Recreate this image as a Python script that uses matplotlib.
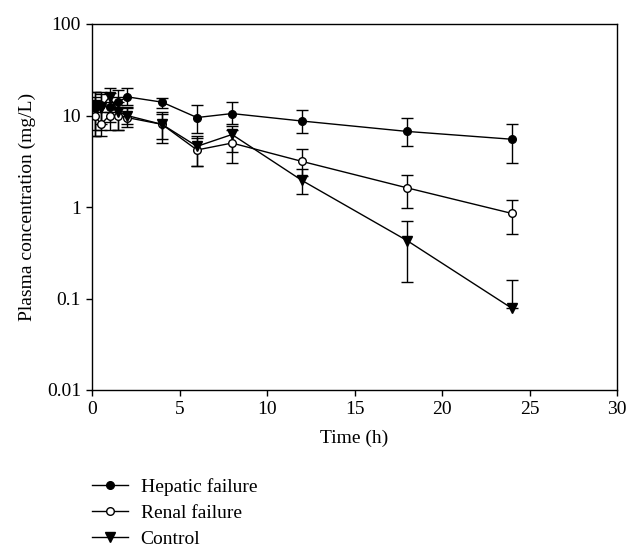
import numpy as np
import matplotlib
matplotlib.use("Agg")
import matplotlib.pyplot as plt
from matplotlib.lines import Line2D

plt.rcParams['font.family'] = ['Liberation Serif', 'DejaVu Serif']
plt.rcParams['font.size'] = 14

# sampling times (h)
t = [0.17, 0.5, 1, 1.5, 2, 4, 6, 8, 12, 18, 24]

# hepatic failure
hep = [12, 13, 12.5, 14, 16, 14, 9.5, 10.5, 8.7, 6.7, 5.5]
hep_lo = [6, 5, 4, 4, 3, 2, 3, 2.5, 2.2, 2.1, 2.5]
hep_hi = [6, 5, 5, 5, 4, 1.5, 3.5, 3.5, 2.8, 2.8, 2.6]

# renal failure
ren = [10, 8, 10, 10, 9.5, 8, 4.2, 5, 3.15, 1.62, 0.85]
ren_lo = [4, 2, 3, 3, 2, 3, 1.4, 2, 0.95, 0.65, 0.34]
ren_hi = [6, 3, 4, 4, 3, 3, 1.5, 2, 1.15, 0.62, 0.35]

# control
ctl = [13, 12, 16, 11, 10, 8, 4.6, 6.2, 1.95, 0.43, 0.078]
ctl_lo = [6, 5, 5, 4, 2, 2.5, 1.8, 2.2, 0.57, 0.28, 0.0]
ctl_hi = [5, 5, 4, 5, 2, 2.5, 1.4, 1.5, 0.65, 0.28, 0.081]

labels = ['Hepatic failure', 'Renal failure', 'Control']

fig = plt.figure(figsize=(6.32, 5.48), dpi=100)
ax = fig.add_axes([92/632, 1-390/548, 525/632, 366/548])

lw = 1.0
common = dict(color='black', lw=lw, elinewidth=lw, capsize=4.5, capthick=lw)
ax.errorbar(t, hep, yerr=[hep_lo, hep_hi], marker='o', ms=5.5,
            mfc='black', mec='black', **common)
ax.errorbar(t, ren, yerr=[ren_lo, ren_hi], marker='o', ms=5.5,
            mfc='white', mec='black', **common)
ax.errorbar(t, ctl, yerr=[ctl_lo, ctl_hi], marker='v', ms=7,
            mfc='black', mec='black', **common)

ax.set_yscale('log')
ax.set_ylim(0.01, 100)
ax.set_xlim(0, 30)
ax.set_xticks([0, 5, 10, 15, 20, 25, 30])
ax.set_yticks([0.01, 0.1, 1, 10, 100])
ax.set_yticklabels(['0.01', '0.1', '1', '10', '100'])
ax.yaxis.set_minor_locator(matplotlib.ticker.NullLocator())
ax.tick_params(direction='out', length=4, width=1.0, top=False, right=False, pad=4)
for s in ax.spines.values():
    s.set_linewidth(1.0)

ax.set_xlabel('Time (h)', labelpad=8)
ax.set_ylabel('Plasma concentration (mg/L)', labelpad=8)

handles = [
    Line2D([], [], color='black', lw=lw, marker='o', ms=5.5, mfc='black', mec='black'),
    Line2D([], [], color='black', lw=lw, marker='o', ms=5.5, mfc='white', mec='black'),
    Line2D([], [], color='black', lw=lw, marker='v', ms=7, mfc='black', mec='black'),
]
fig.legend(handles=handles, labels=labels, loc='upper left',
           bbox_to_anchor=(92/632, 1-478/548), frameon=False,
           handlelength=1.85, handletextpad=0.65, labelspacing=0.43,
           borderpad=0, borderaxespad=0)

fig.savefig('out.png', dpi=100)
